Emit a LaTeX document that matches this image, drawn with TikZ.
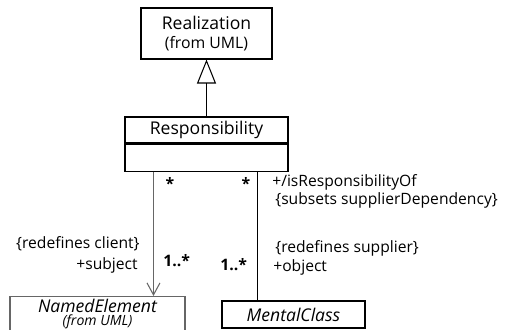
\documentclass[tikz,border=0pt]{standalone}
\usepackage{fontspec}
\setmainfont{Open Sans}
\usetikzlibrary{arrows.meta,positioning}
\tikzset{
  umlbox/.style={draw, rectangle, inner sep=0pt, align=center, line width=0.6pt},
  mult/.style={inner sep=0pt, font=\small\bfseries},
  role/.style={inner sep=0pt, align=left, font=\fontsize{8.9}{10}\selectfont},
  assoc/.style={line width=0.6pt},
  navig/.style={assoc, draw=black!60, -{Straight Barb[length=0.24cm,width=0.26cm]}},
  generalize/.style={line width=0.6pt, -{Triangle[open,length=0.48cm,width=0.38cm]}}
}

\begin{document}
\begin{tikzpicture}[x=0.02cm,y=-0.02cm]
        \useasboundingbox (0,0) rectangle (512,329);

        \node[umlbox, minimum width=2.62cm, minimum height=1.02cm] (real) at (206.5,33.5) {Realization\\[-1pt]{\small (from UML)}};
        \node[umlbox, minimum width=3.26cm, minimum height=0.52cm] (resp) at (206.5,130) {Responsibility};
        \node[umlbox, minimum width=3.26cm, minimum height=0.54cm, below=0pt of resp] (respbody) {};
        \node[umlbox, draw=black!60, minimum width=3.5cm, minimum height=0.7cm] (named) at (97.5,314) {\itshape NamedElement\\[-4.5pt]{\footnotesize\itshape (from UML)}};
        \node[umlbox, minimum width=2.86cm, minimum height=0.54cm] (mental) at (293.5,314.5) {\itshape MentalClass};

        \draw[generalize] (resp) -- (real);

        \path ([xshift=0.58cm]respbody.south west) coordinate (subj);
        \path ([xshift=2.66cm]respbody.south west) coordinate (obj);
        \draw[navig] (subj) -- (subj |- named.north);
        \draw[assoc] (obj) -- (obj |- mental.north);

        \node[mult] (subjmany) at (170,183) {*};
        \node[mult] (objmany) at (246,183) {*};
        \node[mult, anchor=west] (subjmult) at (163,261) {1..*};
        \node[mult, anchor=west] (objmult) at (220,265) {1..*};

        \node[role, anchor=west] (ofrole) at (272,182) {+/isResponsibilityOf};
        \node[role, anchor=west] (ofsubset) at (275,200) {\{subsets supplierDependency\}};
        \node[role, anchor=west] (objredef) at (275,248) {\{redefines supplier\}};
        \node[role, anchor=west] (objrole) at (273,267) {+object};
        \node[role, anchor=east] (subjredef) at (140,244) {\{redefines client\}};
        \node[role, anchor=east] (subjrole) at (138,265) {+subject};
    \end{tikzpicture}
\end{document}
